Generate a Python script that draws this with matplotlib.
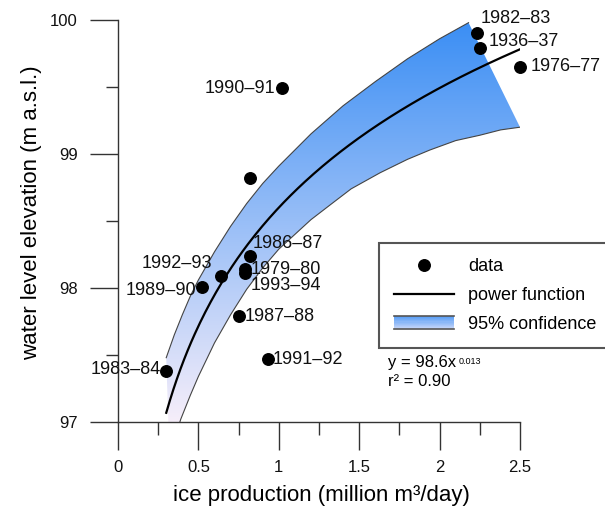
import numpy as np
import matplotlib
matplotlib.use('Agg')
import matplotlib.pyplot as plt
from matplotlib.colors import LinearSegmentedColormap
from matplotlib.legend_handler import HandlerBase
from matplotlib.lines import Line2D
from matplotlib.patches import Rectangle, Polygon
from matplotlib.ticker import MultipleLocator

plt.rcParams['font.family'] = ['Liberation Sans', 'DejaVu Sans']

# observed seasons
seasons = ['1982–83', '1936–37', '1976–77', '1990–91', '', '1986–87', '1979–80',
           '1993–94', '1992–93', '1989–90', '1987–88', '1991–92', '1983–84']
ice = [2.23, 2.25, 2.50, 1.02, 0.82, 0.82, 0.79, 0.79, 0.64, 0.52, 0.75, 0.93, 0.30]
level = [99.90, 99.79, 99.65, 99.49, 98.82, 98.24, 98.14, 98.11, 98.09, 98.01, 97.79, 97.47, 97.38]

# label offsets (points) and alignment
lab_dx = [3, 6, 8, -5, 0, 2, 4, 4, -6, -4, 4, 4, -4]
lab_dy = [11, 5, 0, 0, 0, 9, 0, -9, 9, -3, 0, 0, 1]
lab_ha = ['left', 'left', 'left', 'right', 'left', 'left', 'left', 'left',
          'right', 'right', 'left', 'left', 'right']

# power fit y = a * x^b
fit_a, fit_b = 98.6, 0.013
fit_r2 = 0.90

# 95% confidence band edges
upper_x = [0.30, 0.35, 0.40, 0.45, 0.50, 0.60, 0.70, 0.80, 0.90, 1.00, 1.20, 1.40, 1.60, 1.80, 2.00, 2.18]
upper_y = [97.48, 97.65, 97.80, 97.94, 98.06, 98.27, 98.46, 98.63, 98.78, 98.91, 99.15, 99.36, 99.54, 99.71, 99.86, 99.98]
lower_x = [0.32, 0.39, 0.45, 0.50, 0.60, 0.70, 0.80, 0.90, 1.00, 1.10, 1.20, 1.33, 1.45, 1.63, 1.80, 1.94, 2.10, 2.25, 2.38, 2.50]
lower_y = [96.75, 97.02, 97.20, 97.34, 97.59, 97.80, 97.99, 98.15, 98.29, 98.40, 98.51, 98.63, 98.74, 98.86, 98.96, 99.03, 99.10, 99.14, 99.18, 99.20]

band_cmap = LinearSegmentedColormap.from_list('band', ['#f6eefa', '#3a8ef4'])
axis_col = '#333333'


class GradientHandler(HandlerBase):
    def create_artists(self, legend, orig_handle, xdescent, ydescent,
                       width, height, fontsize, trans):
        arts = []
        n = 12
        for i in range(n):
            arts.append(Rectangle((-xdescent, -ydescent + height * i / n), width, height / n,
                                  facecolor=band_cmap(0.25 + 0.6 * i / (n - 1)),
                                  edgecolor='none', transform=trans))
        for yy in (-ydescent, -ydescent + height):
            arts.append(Line2D([-xdescent, -xdescent + width], [yy, yy],
                               color='#555555', lw=1.2, transform=trans))
        return arts


fig = plt.figure(figsize=(6.05, 5.08), dpi=100)
ax = fig.add_axes([118 / 605, 86 / 508, 402 / 605, 402 / 508])

# confidence band with vertical gradient
poly = Polygon(list(zip(upper_x, upper_y)) + list(zip(lower_x[::-1], lower_y[::-1])),
               closed=True, facecolor='none', edgecolor='none', transform=ax.transData)
ax.add_patch(poly)
grad = np.linspace(0, 1, 256).reshape(-1, 1)
im = ax.imshow(grad, extent=[0, 2.5, 97, 100], origin='lower', aspect='auto',
               cmap=band_cmap, zorder=1)
im.set_clip_path(poly)
ax.plot(upper_x, upper_y, color='#444444', lw=0.8, zorder=2)
ax.plot(lower_x, lower_y, color='#444444', lw=0.8, zorder=2)

# fitted power function
fx = np.linspace(0.30, 2.5, 200)
ax.plot(fx, fit_a * fx ** fit_b, color='black', lw=1.6, zorder=3)

# data
ax.plot(ice, level, 'o', color='black', ms=8.3, zorder=4, clip_on=False)
for i in range(len(seasons)):
    if seasons[i]:
        ax.annotate(seasons[i], (ice[i], level[i]), xytext=(lab_dx[i], lab_dy[i]),
                    textcoords='offset points', ha=lab_ha[i], va='center',
                    fontsize=13, color='#111111', annotation_clip=False, zorder=5)

ax.set_xlim(0, 2.5)
ax.set_ylim(97, 100)
ax.set_xticks([0, 0.5, 1, 1.5, 2, 2.5])
ax.set_xticklabels(['0', '0.5', '1', '1.5', '2', '2.5'])
ax.xaxis.set_minor_locator(MultipleLocator(0.25))
ax.yaxis.set_major_locator(MultipleLocator(1))
ax.yaxis.set_minor_locator(MultipleLocator(0.5))
ax.tick_params(which='major', length=20, width=1, direction='out', colors=axis_col, labelsize=12)
ax.tick_params(which='minor', length=9, width=1, direction='out', colors=axis_col)
ax.tick_params(axis='x', which='major', pad=7, labelcolor='#111111')
ax.tick_params(axis='y', which='major', pad=9, labelcolor='#111111')
for s in ['top', 'right']:
    ax.spines[s].set_visible(False)
for s in ['left', 'bottom']:
    ax.spines[s].set_color(axis_col)
    ax.spines[s].set_linewidth(1)

ax.set_xlabel('ice production (million m³/day)', fontsize=16, va='center')
ax.xaxis.set_label_coords(0.505, -0.182)
ax.set_ylabel('water level elevation (m a.s.l.)', fontsize=16, va='center')
ax.yaxis.set_label_coords(-0.215, 0.52)

# legend
handles = [Line2D([], [], ls='none', marker='o', color='black', ms=8.3),
           Line2D([], [], color='black', lw=1.6),
           Rectangle((0, 0), 1, 1)]
leg = fig.legend(handles, ['data', 'power function', '95% confidence'],
                 loc='upper left', bbox_to_anchor=(379 / 605, 1 - 243 / 508, 0.5, 0),
                 mode='expand', borderaxespad=0, fontsize=13, numpoints=1,
                 handlelength=3.3, handletextpad=0.8, borderpad=0.85, labelspacing=0.65,
                 fancybox=False, framealpha=1, edgecolor='#555555',
                 handler_map={Rectangle: GradientHandler()})
leg.get_frame().set_linewidth(1.5)

# equation
eq = ax.text(388 / 605, 1 - 363 / 508, 'y = 98.6x', transform=fig.transFigure,
             fontsize=12, va='center', ha='left')
ax.annotate('%.3f' % fit_b, xy=(1.03, 0.9), xycoords=eq, fontsize=6.5, va='top', ha='left')
ax.text(388 / 605, 1 - 381 / 508, 'r² = %.2f' % fit_r2, transform=fig.transFigure,
        fontsize=12, va='center', ha='left')

fig.savefig('out.png', dpi=100)
